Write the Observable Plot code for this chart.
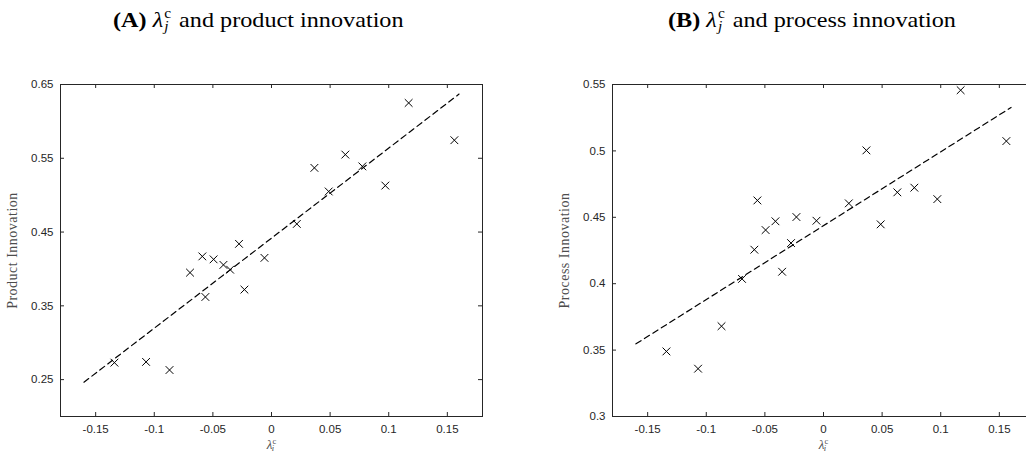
<!DOCTYPE html>
<html>
<head>
<meta charset="utf-8">
<script src="https://cdn.jsdelivr.net/npm/d3@7"></script>
<script src="https://cdn.jsdelivr.net/npm/@observablehq/plot@0.6"></script>
<style>
  html, body { margin: 0; padding: 0; background: white; overflow: hidden; }
  #wrap { position: relative; width: 1026px; height: 455px; overflow: hidden; background: white; }
  .title { position: absolute; top: 9px; font-family: "Liberation Serif", "Times New Roman", serif; font-size: 22px; line-height: 22px; white-space: nowrap; color: #000; transform: scaleX(1.1); transform-origin: left center; }
  .title i.lam { font-style: italic; }
  .ss { display: inline-block; position: relative; width: 9px; height: 0; }
  .ss .sup { position: absolute; left: 1px; top: -20px; font-size: 14px; line-height: 14px; }
  .ss .sub { position: absolute; left: 1px; top: -7px; font-size: 14px; line-height: 14px; font-style: italic; }
  .panel { position: absolute; top: 40px; width: 520px; height: 415px; }
  .panel svg { max-width: none !important; }
  g[aria-label="y-axis label"] text { font-family: "Liberation Serif", "Times New Roman", serif; font-size: 14px; letter-spacing: 0.5px; fill: #4d4d4d; }
</style>
</head>
<body>
<div id="wrap">
  <div class="title" style="left:113px"><b>(A)</b> <i class="lam">λ</i><span class="ss"><span class="sup">c</span><span class="sub">j</span></span> and product innovation</div>
  <div class="title" style="left:668px"><b>(B)</b> <i class="lam">λ</i><span class="ss"><span class="sup">c</span><span class="sub">j</span></span> and process innovation</div>
  <div id="pA" class="panel" style="left:0px"></div>
  <div id="pB" class="panel" style="left:520px"></div>
</div>
<script>
// ---- data ----
const lambdaC = [-0.134, -0.107, -0.087, -0.0695, -0.059, -0.0564, -0.0494, -0.041, -0.0353, -0.0277,
                 -0.0231, -0.006, 0.0216, 0.0366, 0.0488, 0.063, 0.0775, 0.0971, 0.117, 0.156];
const productInnovation = [0.273, 0.274, 0.263, 0.395, 0.417, 0.362, 0.413, 0.4055, 0.399, 0.434,
                           0.372, 0.415, 0.461, 0.537, 0.505, 0.555, 0.539, 0.513, 0.625, 0.5745];
const processInnovation = [0.349, 0.336, 0.368, 0.4036, 0.4256, 0.4627, 0.4404, 0.447, 0.409, 0.4306,
                           0.4502, 0.4474, 0.4605, 0.5004, 0.4447, 0.4688, 0.4723, 0.4637, 0.5457, 0.5074];
const fitX = [-0.16, 0.16];
const productFit = [0.2465, 0.637];
const processFit = [0.3547, 0.5327];
const xTicks = [-0.15, -0.1, -0.05, 0, 0.05, 0.1, 0.15];
const productYTicks = [0.25, 0.35, 0.45, 0.55, 0.65];
const processYTicks = [0.3, 0.35, 0.4, 0.45, 0.5, 0.55];
const xDomain = [-0.18, 0.18];
const productYDomain = [0.2, 0.65];
const processYDomain = [0.3, 0.55];

function panel({yValues, fitY, yDomain, yTicks, yLabel, width, marginLeft, marginRight}) {
  const height = 415, marginTop = 44, marginBottom = 39;
  const fw = width - marginLeft - marginRight;
  const fh = height - marginTop - marginBottom;
  const tick = 4;
  const axisColor = "#262626";
  const rows = lambdaC.map((x, i) => ({x, y: yValues[i]}));
  const fit = fitX.map((x, i) => ({x, y: fitY[i]}));
  const svg = Plot.plot({
    width, height, marginTop, marginBottom, marginLeft, marginRight,
    x: {domain: xDomain},
    y: {domain: yDomain},
    style: {fontFamily: "'Liberation Sans', Arial, sans-serif", fontSize: "11.5px", color: axisColor, background: "white", overflow: "visible"},
    marks: [
      Plot.ruleX(xTicks, {x: d => d, insetTop: fh - tick, stroke: axisColor}),
      Plot.ruleX(xTicks, {x: d => d, insetBottom: fh - tick, stroke: axisColor}),
      Plot.ruleY(yTicks, {y: d => d, insetRight: fw - tick, stroke: axisColor}),
      Plot.ruleY(yTicks, {y: d => d, insetLeft: fw - tick, stroke: axisColor}),
      Plot.frame({stroke: axisColor}),
      Plot.axisX(xTicks, {tickSize: 0, tickPadding: 8, tickFormat: d => String(d), label: "λ", labelAnchor: "center", labelArrow: "none", labelOffset: 32}),
      Plot.axisY(yTicks, {tickSize: 0, tickPadding: 7, tickFormat: d => String(d), label: yLabel, labelAnchor: "center", labelArrow: "none", labelOffset: 53}),
      Plot.line(fit, {x: "x", y: "y", stroke: "black", strokeWidth: 1.2, strokeDasharray: "6,4"}),
      Plot.dot(rows, {x: "x", y: "y", symbol: "times", r: 3.6, stroke: "black", strokeWidth: 1})
    ]
  });
  // x label: lambda with stacked super/subscript
  const t = svg.querySelector('g[aria-label="x-axis label"] text');
  if (t) {
    t.textContent = "";
    const ns = "http://www.w3.org/2000/svg";
    const mk = (txt, attrs) => { const s = document.createElementNS(ns, "tspan"); s.textContent = txt; for (const k in attrs) s.setAttribute(k, attrs[k]); t.appendChild(s); };
    t.setAttribute("font-family", "'Liberation Serif', 'Times New Roman', serif");
    t.setAttribute("fill", "#4d4d4d");
    mk("λ", {"font-style": "italic", "font-size": "13px"});
    mk("c", {"font-size": "8.5px", dy: "-5"});
    mk("i", {"font-size": "8.5px", "font-style": "italic", dx: "-4.5", dy: "7"});
  }
  return svg;
}

document.getElementById("pA").appendChild(panel({
  yValues: productInnovation, fitY: productFit, yDomain: productYDomain, yTicks: productYTicks,
  yLabel: "Product Innovation", width: 520, marginLeft: 60, marginRight: 38
}));
document.getElementById("pB").appendChild(panel({
  yValues: processInnovation, fitY: processFit, yDomain: processYDomain, yTicks: processYTicks,
  yLabel: "Process Innovation", width: 520, marginLeft: 92, marginRight: 6
}));
</script>
</body>
</html>
